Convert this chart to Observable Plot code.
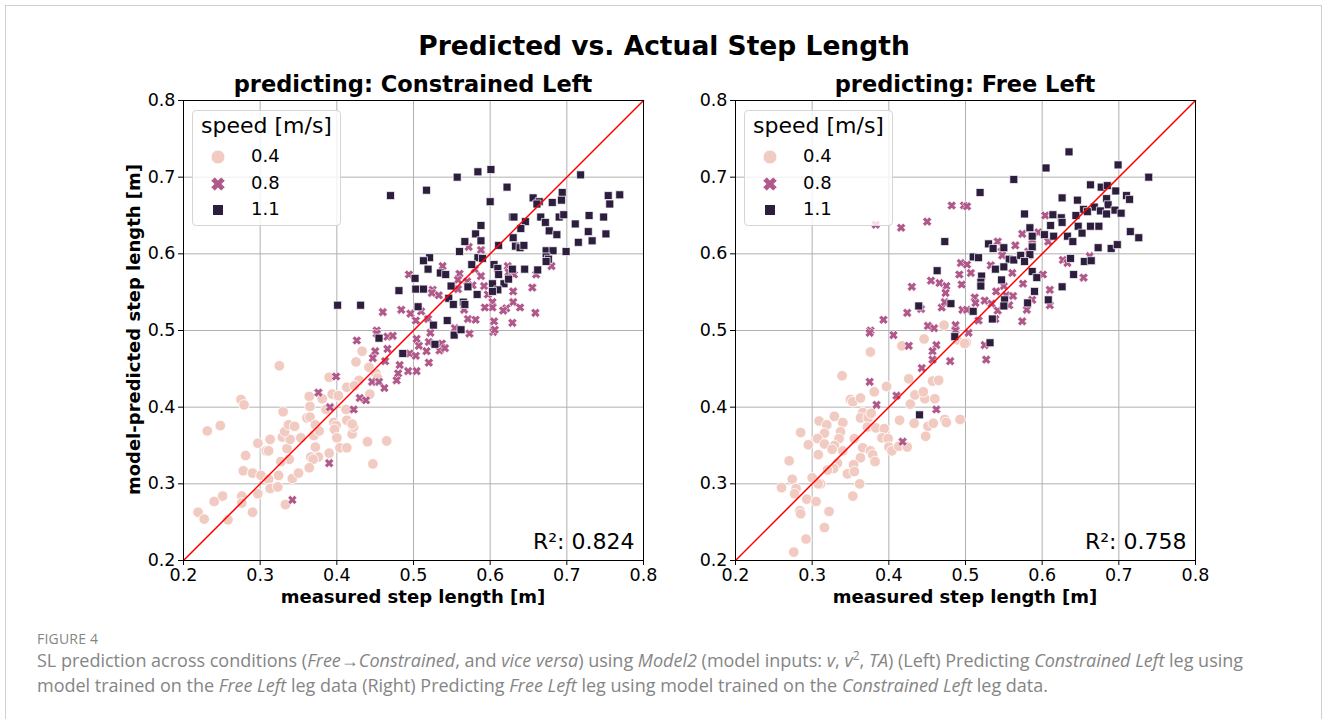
<!DOCTYPE html>
<html>
<head>
<meta charset="utf-8">
<script src="https://cdn.jsdelivr.net/npm/d3@7"></script>
<script src="https://cdn.jsdelivr.net/npm/@observablehq/plot@0.6"></script>
<style>
  body { margin: 0; background: #fff; }
  #fig { position: relative; width: 1328px; height: 719px; overflow: hidden; font-family: "DejaVu Sans", sans-serif; background: #fff; }
  .abs { position: absolute; }
  .frameBox { left: 5px; top: 5px; width: 1317px; height: 730px; border: 1px solid #d0d0d0; box-sizing: border-box; }
  .title { font-weight: bold; font-size: 26.5px; width: 1328px; left: 0; text-align: center; top: 30px; }
  .subtitle { font-weight: bold; font-size: 22.5px; width: 460px; text-align: center; top: 71px; }
  .ylab { font-weight: bold; font-size: 18px; transform-origin: center; transform: rotate(-90deg); width: 460px; text-align: center; }
  .xlab { font-weight: bold; font-size: 18px; width: 460px; text-align: center; top: 586px; }
  .legend { width: 149px; height: 116px; border: 1px solid #d5d5d5; border-radius: 4px; background: rgba(255,255,255,0.8); box-sizing: border-box; }
  .legend .lt { position: absolute; left: 0; width: 147px; text-align: center; top: 2px; font-size: 22px; }
  .legend .row { position: absolute; left: 58px; font-size: 18px; }
  .legend svg { position: absolute; left: 0; top: 0; }
  .cap { font-family: "Open Sans", sans-serif; color: #858585; left: 37px; }
</style>
</head>
<body>
<div id="fig"></div>
<script>
// ---- data ----
const speeds = ["0.4", "0.8", "1.1"];
const speedColors = ["#f1cbc2", "#b0588a", "#2d1e3e"];
const xTicks = [0.2, 0.3, 0.4, 0.5, 0.6, 0.7, 0.8];
const yTicks = [0.2, 0.3, 0.4, 0.5, 0.6, 0.7, 0.8];
const identityLine = [0.2, 0.8];
const panelTitles = ["predicting: Constrained Left", "predicting: Free Left"];
const r2Labels = ["R²: 0.824", "R²: 0.758"];

// Left panel: predicting Constrained Left
const leftSlow = [[0.325,0.454],[0.275,0.410],[0.279,0.403],[0.231,0.369],[0.248,0.376],[0.330,0.394],[0.297,0.353],[0.313,0.358],[0.281,0.337],[0.308,0.343],[0.311,0.343],[0.278,0.317],[0.290,0.314],[0.301,0.311],[0.311,0.306],[0.324,0.311],[0.313,0.294],[0.323,0.296],[0.297,0.287],[0.276,0.284],[0.251,0.284],[0.240,0.277],[0.276,0.275],[0.290,0.263],[0.258,0.253],[0.219,0.263],[0.227,0.254],[0.333,0.273],[0.342,0.307],[0.350,0.314],[0.338,0.332],[0.335,0.346],[0.327,0.329],[0.329,0.361],[0.339,0.358],[0.332,0.368],[0.337,0.377],[0.345,0.375],[0.353,0.360],[0.364,0.414],[0.365,0.401],[0.361,0.386],[0.365,0.387],[0.372,0.377],[0.370,0.363],[0.377,0.369],[0.372,0.348],[0.376,0.335],[0.366,0.335],[0.369,0.332],[0.364,0.321],[0.390,0.340],[0.390,0.439],[0.400,0.415],[0.394,0.417],[0.381,0.411],[0.386,0.397],[0.412,0.397],[0.413,0.383],[0.396,0.380],[0.399,0.376],[0.397,0.371],[0.400,0.360],[0.404,0.347],[0.413,0.347],[0.420,0.365],[0.422,0.374],[0.420,0.378],[0.440,0.355],[0.465,0.356],[0.447,0.326],[0.413,0.426],[0.425,0.459],[0.433,0.473],[0.442,0.452],[0.451,0.444],[0.453,0.438],[0.429,0.435],[0.423,0.428],[0.443,0.417],[0.402,0.415]];
const leftMid = [[0.494,0.573],[0.460,0.524],[0.484,0.527],[0.496,0.522],[0.452,0.500],[0.426,0.487],[0.452,0.496],[0.450,0.473],[0.447,0.464],[0.463,0.460],[0.466,0.492],[0.473,0.493],[0.466,0.476],[0.495,0.470],[0.482,0.455],[0.480,0.444],[0.493,0.447],[0.478,0.435],[0.446,0.433],[0.455,0.433],[0.462,0.425],[0.399,0.440],[0.376,0.419],[0.430,0.412],[0.438,0.409],[0.391,0.400],[0.422,0.397],[0.390,0.327],[0.342,0.279],[0.504,0.489],[0.507,0.480],[0.517,0.473],[0.520,0.485],[0.503,0.467],[0.520,0.458],[0.504,0.447],[0.537,0.483],[0.534,0.474],[0.541,0.477],[0.573,0.496],[0.604,0.498],[0.522,0.497],[0.572,0.609],[0.588,0.605],[0.538,0.584],[0.560,0.574],[0.580,0.580],[0.588,0.571],[0.623,0.584],[0.624,0.576],[0.631,0.573],[0.660,0.573],[0.680,0.584],[0.558,0.566],[0.570,0.564],[0.577,0.559],[0.592,0.558],[0.597,0.547],[0.525,0.553],[0.524,0.549],[0.533,0.546],[0.558,0.554],[0.630,0.551],[0.655,0.556],[0.630,0.537],[0.639,0.530],[0.621,0.529],[0.617,0.526],[0.603,0.537],[0.603,0.530],[0.593,0.530],[0.566,0.527],[0.659,0.523],[0.510,0.525],[0.503,0.513],[0.519,0.515],[0.571,0.515],[0.581,0.514],[0.605,0.512],[0.629,0.510],[0.554,0.503],[0.606,0.501]];
const leftFast = [[0.470,0.676],[0.481,0.552],[0.401,0.533],[0.431,0.533],[0.455,0.490],[0.486,0.470],[0.553,0.494],[0.528,0.482],[0.557,0.700],[0.584,0.707],[0.601,0.710],[0.517,0.683],[0.622,0.687],[0.718,0.703],[0.600,0.668],[0.656,0.673],[0.664,0.668],[0.661,0.665],[0.681,0.667],[0.694,0.680],[0.693,0.670],[0.754,0.676],[0.756,0.665],[0.769,0.677],[0.629,0.648],[0.631,0.648],[0.666,0.648],[0.690,0.648],[0.696,0.651],[0.729,0.650],[0.748,0.648],[0.646,0.642],[0.672,0.641],[0.640,0.633],[0.711,0.639],[0.677,0.630],[0.687,0.625],[0.728,0.629],[0.751,0.626],[0.733,0.617],[0.715,0.615],[0.588,0.637],[0.581,0.626],[0.588,0.617],[0.567,0.616],[0.630,0.621],[0.633,0.610],[0.639,0.608],[0.644,0.611],[0.611,0.611],[0.560,0.603],[0.673,0.604],[0.682,0.604],[0.699,0.603],[0.673,0.596],[0.676,0.593],[0.673,0.590],[0.521,0.595],[0.513,0.591],[0.519,0.580],[0.584,0.595],[0.590,0.594],[0.576,0.586],[0.605,0.586],[0.610,0.581],[0.611,0.573],[0.629,0.580],[0.645,0.580],[0.662,0.579],[0.535,0.575],[0.542,0.573],[0.502,0.568],[0.503,0.554],[0.513,0.554],[0.549,0.558],[0.571,0.557],[0.603,0.561],[0.618,0.561],[0.624,0.567],[0.610,0.553],[0.603,0.551],[0.583,0.547],[0.546,0.542],[0.552,0.534],[0.565,0.537],[0.567,0.534],[0.506,0.531],[0.544,0.513],[0.526,0.507],[0.562,0.501]];

// Right panel: predicting Free Left
const rightSlow = [[0.472,0.507],[0.501,0.484],[0.376,0.472],[0.417,0.480],[0.446,0.489],[0.339,0.441],[0.381,0.420],[0.397,0.427],[0.350,0.410],[0.353,0.407],[0.363,0.412],[0.366,0.393],[0.363,0.386],[0.373,0.386],[0.377,0.392],[0.329,0.388],[0.309,0.382],[0.319,0.377],[0.340,0.380],[0.285,0.367],[0.316,0.366],[0.337,0.368],[0.307,0.359],[0.335,0.359],[0.295,0.351],[0.316,0.352],[0.329,0.350],[0.326,0.345],[0.340,0.343],[0.355,0.359],[0.308,0.338],[0.366,0.347],[0.376,0.343],[0.379,0.338],[0.363,0.334],[0.382,0.329],[0.372,0.374],[0.383,0.373],[0.394,0.372],[0.391,0.360],[0.399,0.359],[0.400,0.348],[0.404,0.343],[0.413,0.349],[0.424,0.348],[0.270,0.330],[0.333,0.327],[0.328,0.320],[0.320,0.318],[0.346,0.313],[0.354,0.325],[0.355,0.316],[0.362,0.300],[0.300,0.308],[0.311,0.300],[0.308,0.300],[0.274,0.306],[0.260,0.295],[0.279,0.294],[0.277,0.287],[0.353,0.284],[0.293,0.280],[0.305,0.277],[0.284,0.265],[0.285,0.261],[0.322,0.264],[0.316,0.243],[0.292,0.228],[0.276,0.211],[0.414,0.383],[0.433,0.379],[0.451,0.375],[0.458,0.379],[0.448,0.362],[0.473,0.384],[0.475,0.380],[0.493,0.384],[0.428,0.404],[0.434,0.416],[0.447,0.411],[0.460,0.411],[0.445,0.420],[0.457,0.434],[0.465,0.435],[0.426,0.437],[0.489,0.488],[0.499,0.483]];
const rightMid = [[0.383,0.638],[0.416,0.634],[0.450,0.642],[0.482,0.663],[0.498,0.663],[0.494,0.588],[0.492,0.573],[0.430,0.557],[0.455,0.565],[0.466,0.562],[0.475,0.558],[0.474,0.549],[0.495,0.560],[0.424,0.523],[0.442,0.528],[0.469,0.530],[0.473,0.537],[0.496,0.527],[0.393,0.514],[0.451,0.506],[0.459,0.503],[0.487,0.507],[0.376,0.500],[0.487,0.500],[0.502,0.662],[0.604,0.650],[0.595,0.628],[0.574,0.626],[0.608,0.616],[0.587,0.618],[0.542,0.616],[0.565,0.611],[0.547,0.603],[0.548,0.598],[0.582,0.603],[0.583,0.598],[0.502,0.586],[0.533,0.585],[0.507,0.575],[0.561,0.575],[0.601,0.573],[0.627,0.592],[0.633,0.588],[0.662,0.597],[0.654,0.569],[0.575,0.561],[0.550,0.558],[0.540,0.551],[0.553,0.546],[0.562,0.545],[0.610,0.553],[0.610,0.533],[0.587,0.540],[0.580,0.527],[0.512,0.543],[0.513,0.536],[0.525,0.539],[0.534,0.535],[0.557,0.533],[0.542,0.526],[0.539,0.515],[0.517,0.513],[0.574,0.512],[0.502,0.527],[0.375,0.497],[0.406,0.494],[0.426,0.480],[0.462,0.481],[0.457,0.473],[0.457,0.462],[0.480,0.460],[0.443,0.451],[0.375,0.433],[0.410,0.415],[0.384,0.403],[0.462,0.397],[0.418,0.355],[0.525,0.481],[0.527,0.462],[0.504,0.497]];
const rightFast = [[0.473,0.616],[0.463,0.578],[0.439,0.532],[0.481,0.535],[0.440,0.390],[0.486,0.492],[0.532,0.484],[0.635,0.733],[0.699,0.716],[0.605,0.712],[0.563,0.697],[0.739,0.700],[0.519,0.680],[0.663,0.690],[0.677,0.687],[0.685,0.689],[0.696,0.682],[0.626,0.673],[0.646,0.670],[0.684,0.672],[0.686,0.664],[0.710,0.676],[0.714,0.671],[0.668,0.661],[0.676,0.656],[0.695,0.657],[0.684,0.652],[0.703,0.653],[0.654,0.658],[0.659,0.655],[0.644,0.650],[0.577,0.652],[0.614,0.651],[0.625,0.647],[0.626,0.641],[0.611,0.637],[0.647,0.636],[0.663,0.636],[0.674,0.636],[0.652,0.627],[0.584,0.634],[0.587,0.623],[0.603,0.625],[0.615,0.623],[0.633,0.623],[0.640,0.616],[0.715,0.629],[0.726,0.621],[0.673,0.608],[0.690,0.607],[0.698,0.612],[0.530,0.613],[0.536,0.607],[0.550,0.608],[0.587,0.609],[0.510,0.596],[0.517,0.595],[0.557,0.593],[0.563,0.592],[0.572,0.598],[0.584,0.599],[0.577,0.590],[0.637,0.594],[0.655,0.590],[0.664,0.591],[0.550,0.583],[0.539,0.580],[0.587,0.577],[0.593,0.569],[0.641,0.573],[0.521,0.571],[0.520,0.563],[0.520,0.558],[0.547,0.566],[0.590,0.551],[0.626,0.557],[0.551,0.540],[0.581,0.536],[0.608,0.540],[0.550,0.532],[0.510,0.525],[0.535,0.515]];

// ---- symbols ----
function xShape(context, a, t) {
  const pts = [[t,a],[t,t],[a,t],[a,-t],[t,-t],[t,-a],[-t,-a],[-t,-t],[-a,-t],[-a,t],[-t,t],[-t,a]];
  const c = Math.SQRT1_2;
  pts.forEach(([x, y], i) => {
    const rx = (x - y) * c, ry = (x + y) * c;
    if (i === 0) context.moveTo(rx, ry); else context.lineTo(rx, ry);
  });
  context.closePath();
}
const symbolThickX = {
  draw(context, size) {
    const r = Math.sqrt(size / Math.PI);
    xShape(context, r, r * 0.38);
  }
};

const fig = document.getElementById("fig");
function add(html) { fig.insertAdjacentHTML("beforeend", html); }
add(`<div class="abs frameBox"></div>`);
add(`<div class="abs title">Predicted vs. Actual Step Length</div>`);

const panels = [
  {left: 123, slow: leftSlow, mid: leftMid, fast: leftFast},
  {left: 675, slow: rightSlow, mid: rightMid, fast: rightFast}
];

panels.forEach((p, i) => {
  const toObj = arr => arr.map(([x, y]) => ({x, y}));
  const chart = Plot.plot({
    width: 530,
    height: 510,
    marginLeft: 60,
    marginRight: 10,
    marginTop: 10,
    marginBottom: 40,
    style: {fontFamily: "DejaVu Sans, sans-serif", fontSize: "17.5px", color: "black", background: "transparent", overflow: "visible"},
    x: {domain: [0.2, 0.8], ticks: xTicks, tickFormat: d3.format(".1f"), tickSize: 5, tickPadding: 3, label: null},
    y: {domain: [0.2, 0.8], ticks: yTicks, tickFormat: d3.format(".1f"), tickSize: 5, tickPadding: 3, label: null},
    marks: [
      Plot.ruleX(xTicks, {stroke: "#b0b0b0", strokeWidth: 1}),
      Plot.ruleY(yTicks, {stroke: "#b0b0b0", strokeWidth: 1}),
      Plot.dot(toObj(p.slow), {x: "x", y: "y", symbol: "circle", r: 5.3, fill: speedColors[0], stroke: "white", strokeWidth: 0.8}),
      Plot.dot(toObj(p.mid), {x: "x", y: "y", symbol: symbolThickX, r: 4.7, fill: speedColors[1], stroke: "white", strokeWidth: 0.6}),
      Plot.dot(toObj(p.fast), {x: "x", y: "y", symbol: "square", r: 4.5, fill: speedColors[2], stroke: "white", strokeWidth: 0.7}),
      Plot.line(identityLine, {x: d => d, y: d => d, stroke: "red", strokeWidth: 1.5}),
      Plot.frame({stroke: "black", strokeWidth: 1}),
      Plot.text([r2Labels[i]], {frameAnchor: "bottom-right", dx: -9, dy: -12, fontSize: 22, textAnchor: "end", fill: "black"})
    ]
  });
  chart.style.position = "absolute";
  chart.style.left = p.left + "px";
  chart.style.top = "90px";
  fig.appendChild(chart);

  const plotLeft = p.left + 60;
  add(`<div class="abs subtitle" style="left:${plotLeft}px">${panelTitles[i]}</div>`);
  add(`<div class="abs xlab" style="left:${plotLeft}px">measured step length [m]</div>`);

  // legend
  const lx = plotLeft + 9, ly = 110;
  const sym = (type, cx, cy, color) => {
    if (type === "circle") return `<circle cx="${cx}" cy="${cy}" r="7" fill="${color}" stroke="white" stroke-width="1"/>`;
    if (type === "square") return `<rect x="${cx-5.5}" y="${cy-5.5}" width="11" height="11" fill="${color}" stroke="white" stroke-width="1"/>`;
    const path = d3.path(); xShape(path, 7.3, 2.7);
    return `<path transform="translate(${cx},${cy})" d="${path}" fill="${color}" stroke="white" stroke-width="0.8"/>`;
  };
  const types = ["circle", "x", "square"];
  const rowsY = [46, 73, 99];
  let svg = `<svg width="147" height="114">` + types.map((t, k) => sym(t, 25, rowsY[k], speedColors[k])).join("") + `</svg>`;
  let rows = speeds.map((s, k) => `<div class="row" style="top:${rowsY[k] - 12}px">${s}</div>`).join("");
  add(`<div class="abs legend" style="left:${lx}px;top:${ly}px"><div class="lt">speed [m/s]</div>${svg}${rows}</div>`);
});

add(`<div class="abs ylab" style="left:${133 - 230}px;top:${330 - 11}px">model-predicted step length [m]</div>`);

add(`<div class="abs cap" style="top:629px;font-size:14px;letter-spacing:0.2px">FIGURE 4</div>`);
add(`<div class="abs cap" style="top:648px;font-size:18px;line-height:25px;white-space:nowrap">SL prediction across conditions (<i>Free</i>→<i>Constrained</i>, and <i>vice versa</i>) using <i>Model2</i> (model inputs: <i>v</i>, <i>v</i><sup style="font-size:12px;line-height:0">2</sup>, <i>TA</i>) (Left) Predicting <i>Constrained Left</i> leg using<br>model trained on the <i>Free Left</i> leg data (Right) Predicting <i>Free Left</i> leg using model trained on the <i>Constrained Left</i> leg data.</div>`);
</script>
</body>
</html>
